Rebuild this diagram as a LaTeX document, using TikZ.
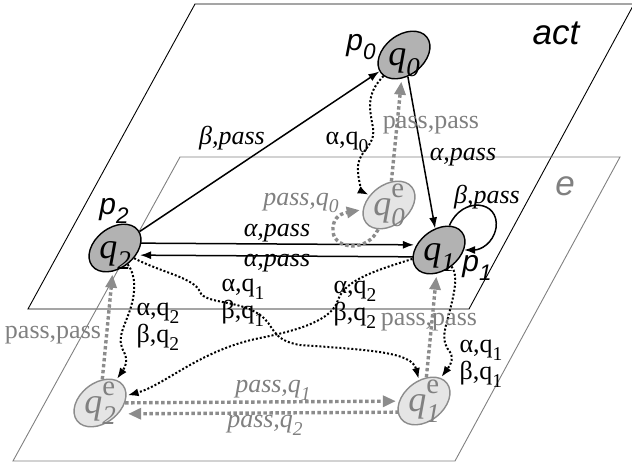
\documentclass[tikz,border=0pt]{standalone}
\usepackage{fontspec}
\setmainfont{Liberation Serif}
\setsansfont{Liberation Sans}
\newfontfamily\timesfont{Liberation Serif}
\usepackage{graphicx}
\usetikzlibrary{arrows.meta,shapes.geometric}
\newcommand{\idxlo}[1]{\raisebox{-0.3em}{\scalebox{0.75}{#1}}}
\newcommand{\idxhi}[1]{\raisebox{0.5em}{\scalebox{0.8}{#1}}}
\newcommand{\sttext}[1]{\rotatebox{-38}{\makebox[0pt]{\raisebox{-0.3em}[0pt][0pt]{#1}}}}
\tikzset{
	actstate/.style={ellipse, draw=black, line width=1.4pt, fill=black!30, minimum width=58pt, minimum height=40pt, rotate=38, inner sep=0pt, font=\fontsize{36}{36}\timesfont\itshape},
	envstate/.style={actstate, draw=black!45, fill=black!10, text=black!50},
	solidarr/.style={line width=1.5pt, -{Latex[length=11pt,width=8pt]}},
	blkdots/.style={line width=2pt, dash pattern=on 2pt off 2pt, -{Latex[length=11pt,width=8pt]}, shorten >=1pt},
	grydots/.style={line width=3.4pt, color=black!45, dash pattern=on 3.4pt off 2.6pt, -{Triangle[length=13pt,width=11pt]}, shorten >=3pt},
	lbl/.style={font=\fontsize{26}{22}\timesfont, inner sep=0pt, align=left},
	grylbl/.style={lbl, text=black!50},
	planename/.style={font=\fontsize{35}{35}\sffamily\itshape, inner sep=0pt},
	pname/.style={font=\fontsize{30}{30}\sffamily\itshape, inner sep=0pt},
}
\begin{document}
\begin{tikzpicture}[x=1pt, y=-1pt]
			%%%%% START %%%%%
			\useasboundingbox (0,0) rectangle (632,468);
			
			% the two planes
			\draw[line width=0.9pt] (28,309) -- (469,309) -- (634,4) -- (195,4) -- cycle;
			\draw[line width=0.9pt, color=black!50] (13,461) -- (455,461) -- (620,157) -- (180,157) -- cycle;
			\node[planename] (actname) at (556,33) {act};
			\node[planename, text=black!50] (ename) at (565,186) {e};
			
			% states
			\node[actstate] (q0) at (404,55) {\sttext{q\idxlo{0}}};
			\node[actstate] (q1) at (439,250) {\sttext{q\idxlo{1}}};
			\node[actstate] (q2) at (115,248) {\sttext{q\idxlo{2}}};
			\node[envstate] (q0e) at (389,205) {\sttext{q\rlap{\idxhi{\upshape e}}\idxlo{0}}};
			\node[envstate] (q1e) at (424,401) {\sttext{q\rlap{\idxhi{\upshape e}}\idxlo{1}}};
			\node[envstate] (q2e) at (100,403) {\sttext{q\rlap{\idxhi{\upshape e}}\idxlo{2}}};
			
			\node[pname] (p0) at (361,47) {p\idxlo{0}};
			\node[pname] (p1) at (477,268) {p\idxlo{1}};
			\node[pname] (p2) at (114,211) {p\idxlo{2}};
			
			% moves of act
			\draw[solidarr] (q2) -- (q0);
			\draw[solidarr] (q0) -- (q1);
			\draw[solidarr] (q1) .. controls (462,196) and (500,200) .. (496,228) .. controls (493,244) and (480,250) .. (q1);
			\draw[solidarr, transform canvas={yshift=5pt}] (q2) -- (q1);
			\draw[solidarr, transform canvas={yshift=-7pt}] (q1) -- (q2);
			
			% act to e
			\draw[blkdots] (q0) .. controls (365,95) and (370,110) .. (373,128) .. controls (376,148) and (356,150) .. (358,172) .. controls (359,185) and (363,192) .. (q0e);
			\draw[blkdots] (q2) .. controls (136,275) and (136,292) .. (130,310) .. controls (124,328) and (116,338) .. (124,352) .. controls (128,360) and (126,366) .. (q2e);
			\draw[blkdots] (q2) .. controls (160,272) and (195,278) .. (200,292) .. controls (205,304) and (240,300) .. (260,315) .. controls (275,325) and (270,340) .. (300,345) .. controls (370,350) and (412,352) .. (q1e);
			\draw[blkdots] (q1) .. controls (385,268) and (345,278) .. (338,300) .. controls (332,320) and (300,330) .. (260,338) .. controls (200,350) and (165,385) .. (q2e);
			\draw[blkdots] (q1) .. controls (458,275) and (455,290) .. (450,310) .. controls (445,330) and (440,340) .. (450,352) .. controls (455,360) and (448,368) .. (q1e);
			
			% e moves
			\draw[grydots] (q0e) -- (q0);
			\draw[grydots] (q2e) -- (q2);
			\draw[grydots] (q1e) -- (q1);
			\draw[grydots] (q0e) .. controls (368,252) and (335,250) .. (333,232) .. controls (332,220) and (338,214) .. (q0e);
			\draw[grydots] (q2e) -- (q1e);
			\draw[grydots, transform canvas={yshift=-11pt}] (q1e) -- (q2e);
			
			% labels
			\node[lbl] (l20) at (232,138) {\itshape β,pass};
			\node[lbl] (l01) at (463,157) {\itshape α,pass};
			\node[lbl] (l11) at (487,197) {\itshape β,pass};
			\node[lbl] (l21) at (277,233) {\itshape α,pass};
			\node[lbl] (l12) at (277,263) {\itshape α,pass};
			\node[lbl] (l00e) at (347,142) {α,q\idxlo{0}};
			\node[lbl] (l21e) at (243,303) {α,q\idxlo{1}\\β,q\idxlo{1}};
			\node[lbl] (l22e) at (158,327) {α,q\idxlo{2}\\β,q\idxlo{2}};
			\node[lbl] (l12e) at (355,305) {α,q\idxlo{2}\\β,q\idxlo{2}};
			\node[lbl] (l11e) at (481,364) {α,q\idxlo{1}\\β,q\idxlo{1}};
			\node[grylbl] (le00) at (431,125) {pass,pass};
			\node[grylbl] (le22) at (53,335) {pass,pass};
			\node[grylbl] (le11) at (429,322) {pass,pass};
			\node[grylbl] (le0) at (301,203) {\itshape pass,q\idxlo{0}};
			\node[grylbl] (le21) at (273,390) {\itshape pass,q\idxlo{1}};
			\node[grylbl] (le12) at (265,425) {\itshape pass,q\idxlo{2}};
			
			%%%%% END %%%%%
\end{tikzpicture}
\end{document}
